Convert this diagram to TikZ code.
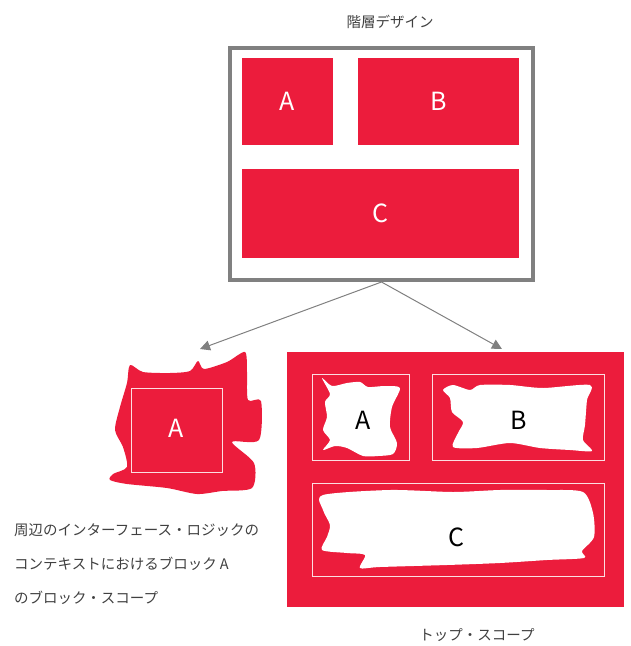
\documentclass[tikz,border=0pt]{standalone}
\usepackage{fontspec}
\setmainfont{Noto Sans CJK JP}
\usetikzlibrary{arrows.meta}
\definecolor{rd}{RGB}{236,28,60}
\definecolor{fr}{RGB}{128,128,128}
\definecolor{tx}{RGB}{64,64,64}
\begin{document}
\begin{tikzpicture}[x=1pt,y=-1pt,
  redbox/.style={fill=rd,draw=none,inner sep=0pt,text=white,font=\fontsize{25}{28}\selectfont},
  wframe/.style={draw=white!85!rd,line width=1pt,fill=none},
  captxt/.style={text=tx,font=\fontsize{14.5}{17}\selectfont,inner sep=0pt},
  lbl/.style={text=black,font=\fontsize{25}{28}\selectfont,inner sep=0pt},
  conn/.style={draw=fr,line width=1pt,-{Triangle[width=10pt,length=10pt]}},
  blob/.style={smooth cycle,tension=0.45}]
\useasboundingbox (0,0) rectangle (631,646);
% title
\node[captxt] (title) at (390,22) {階層デザイン};
% top frame
\node[draw=fr,line width=4pt,minimum width=303pt,minimum height=232pt,inner sep=0pt] (top) at (381.5,164) {};
\node[redbox,minimum width=91pt,minimum height=87pt] (ta) at (287.5,101.5) {A};
\node[redbox,minimum width=161pt,minimum height=87pt] (tb) at (438.5,101.5) {B};
\node[redbox,minimum width=277pt,minimum height=89pt] (tc) at (380.5,213.5) {C};
% arrows
\coordinate (la) at (200,349);
\coordinate (ra) at (502,349);
\draw[conn] (top.south) -- (la);
\draw[conn] (top.south) -- (ra);
% left blob
\fill[rd] plot[blob] coordinates {(130,365) (143,372) (170,373) (190,371) (198,361) (204,369) (227,362) (245,352) (247,372) (248,400) (261,401) (259,440) (232,442) (254,463) (252,488) (222,491) (197,494) (167,488) (127,484) (110,480) (113,474) (127,467) (123,447) (115,430) (120,407) (127,383)};
\node[wframe,minimum width=91pt,minimum height=84pt,inner sep=0pt] (sa) at (176.5,430) {};
\node[text=white,font=\fontsize{25}{28}\selectfont,inner sep=0pt] (saT) at (176.5,428) {A};
% left caption
\node[captxt,anchor=west] (c1) at (14,530) {周辺のインターフェース・ロジックの};
\node[captxt,anchor=west] (c2) at (14,564) {コンテキストにおけるブロック A};
\node[captxt,anchor=west] (c3) at (14,598) {のブロック・スコープ};
% right big red rectangle
\node[fill=rd,minimum width=337pt,minimum height=255pt,inner sep=0pt] (tops) at (455.5,479.5) {};
\node[wframe,minimum width=97pt,minimum height=86pt,inner sep=0pt] (fa) at (360.5,417) {};
\node[wframe,minimum width=172pt,minimum height=86pt,inner sep=0pt] (fb) at (518,417) {};
\node[wframe,minimum width=292pt,minimum height=93pt,inner sep=0pt] (fc) at (458,529.5) {};
% white blobs
\fill[white] plot[blob] coordinates {(322,378) (332,386) (347,383) (360,382) (368,387) (385,386) (400,388) (392,407) (390,427) (397,443) (393,454) (378,456) (363,456) (347,448) (335,446) (323,450) (330,440) (323,430) (327,417) (325,402) (330,394)};
\fill[white] plot[blob] coordinates {(443,390) (453,385) (470,390) (480,385) (510,385) (543,388) (590,385) (587,400) (585,425) (583,440) (592,451) (570,450) (540,448) (510,443) (477,448) (453,447) (458,433) (463,422) (452,412) (450,398)};
\fill[white] plot[blob] coordinates {(323,495) (390,490) (453,492) (500,490) (547,490) (583,492) (593,513) (594,537) (582,551) (584,558) (547,560) (500,563) (447,565) (380,567) (360,568) (365,555) (347,553) (322,550) (327,537) (330,525) (323,510)};
\node[lbl] (ia) at (363,420) {A};
\node[lbl] (ib) at (519,420) {B};
\node[lbl] (ic) at (456,537) {C};
\node[captxt] (bot) at (477,635) {トップ・スコープ};
\end{tikzpicture}
\end{document}
